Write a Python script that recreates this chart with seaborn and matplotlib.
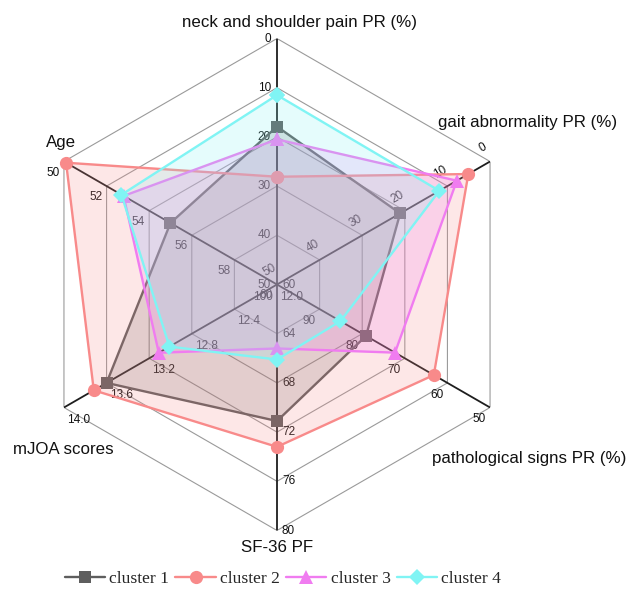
import numpy as np
import matplotlib
matplotlib.use("Agg")
import matplotlib.pyplot as plt
from matplotlib.lines import Line2D
import seaborn as sns

sns.set_style("white")
plt.rcParams['font.family'] = ['Liberation Sans', 'DejaVu Sans']

# Radar dimensions (clockwise from top)
dimensions = ["neck and shoulder pain PR (%)", "gait abnormality PR (%)",
              "pathological signs PR (%)", "SF-36 PF", "mJOA scores", "Age"]

# Tick labels on each spoke, from centre to rim
neck_ticks = ["50", "40", "30", "20", "10", "0"]
gait_ticks = ["50", "40", "30", "20", "10", "0"]
path_ticks = ["100", "90", "80", "70", "60", "50"]
sf36_ticks = ["60", "64", "68", "72", "76", "80"]
mjoa_ticks = ["12.0", "12.4", "12.8", "13.2", "13.6", "14.0"]
age_ticks = ["60", "58", "56", "54", "52", "50"]
spoke_ticks = [neck_ticks, gait_ticks, path_ticks, sf36_ticks, mjoa_ticks, age_ticks]

# Cluster profiles (same order as dimensions)
cluster_names = ["cluster 1", "cluster 2", "cluster 3", "cluster 4"]
cluster1 = [17.9, 21.1, 79.1, 71.1, 13.60, 55.0]
cluster2 = [28.1, 5.1, 63.2, 73.2, 13.72, 50.1]
cluster3 = [20.5, 7.8, 72.3, 65.2, 13.11, 52.8]
cluster4 = [11.5, 11.9, 85.1, 66.1, 13.01, 52.7]
clusters = [cluster1, cluster2, cluster3, cluster4]

colors = ["#5e5e5e", "#f88a8a", "#f07cf0", "#80f4f4"]
markers = ["s", "o", "^", "D"]
msizes = [8, 9.5, 10, 8]

W, H = 630, 589
fig = plt.figure(figsize=(W / 100, H / 100), dpi=100)
cx, cy, R = 277, 284.5, 246
ax = fig.add_axes([(cx - R) / W, (H - cy - R) / H, 2 * R / W, 2 * R / H],
                  projection="polar")
ax.set_theta_zero_location("N")
ax.set_theta_direction(-1)
ax.grid(False)
ax.spines["polar"].set_visible(False)
ax.set_facecolor("none")

n = len(dimensions)
theta = np.linspace(0, 2 * np.pi, n + 1)[:-1]
theta_c = np.append(theta, 2 * np.pi)

centre_vals = np.array([float(t[0]) for t in spoke_ticks])
rim_vals = np.array([float(t[-1]) for t in spoke_ticks])


def to_radius(values):
    v = np.asarray(values, dtype=float)
    return (v - centre_vals) / (rim_vals - centre_vals)


# Hexagonal grid rings
levels = np.linspace(0.2, 1.0, 5)
for lv in levels:
    ax.plot(theta_c, np.full(n + 1, lv), color="#9a9a9a", lw=0.8, zorder=0.5)

# Spokes
for th in theta:
    ax.plot([th, th], [0, 1], color="#1e1e1e", lw=1.3, zorder=0.6)

# Spoke tick labels: (ha, va, dx, dy, rotation) in pixels
label_style = [
    ("right", "center", -6, 0, 0),
    ("center", "center", -7, 14, 30),
    ("right", "center", -4, -12, 0),
    ("left", "center", 5, 0, 0),
    ("left", "center", 3, -12, 0),
    ("right", "center", -4, -11, 0),
]
for th, ticks, (ha, va, dx, dy, rot) in zip(theta, spoke_ticks, label_style):
    for lv, t in zip(np.linspace(0, 1, 6), ticks):
        ax.annotate(t, (th, lv), xytext=(dx, dy), textcoords="offset pixels",
                    ha=ha, va=va, rotation=rot, fontsize=8.5, color="#111111",
                    zorder=0.7, annotation_clip=False)

# Cluster polygons
for i, (vals, c, m, ms) in enumerate(zip(clusters, colors, markers, msizes)):
    r = to_radius(vals)
    r_c = np.append(r, r[0])
    base = 2 + 2 * i
    ax.fill(theta_c, r_c, color=c, alpha=0.2, lw=0, zorder=base)
    sns.lineplot(x=theta_c, y=r_c, ax=ax, sort=False, estimator=None,
                 color=c, marker=m, markersize=ms, markeredgewidth=0,
                 linewidth=1.7, zorder=base + 1, clip_on=False)

ax.set_ylim(0, 1)
ax.set_xticks([])
ax.set_yticks([])
ax.set_xlabel("")
ax.set_ylabel("")

# Dimension titles
title_pos = [(299.5, 23), (528, 123), (529, 458), (277, 548), (63, 449), (61, 143)]
for name, (px, py) in zip(dimensions, title_pos):
    fig.text(px / W, 1 - py / H, name, ha="center", va="center",
             fontsize=12.2, color="#111111")

handles = [Line2D([], [], color=c, marker=m, markersize=ms, mew=0, lw=1.7)
           for c, m, ms in zip(colors, markers, msizes)]
fig.legend(handles, cluster_names, loc="center", bbox_to_anchor=(283 / W, 1 - 579 / H),
           ncol=4, frameon=False, prop={"family": "Liberation Serif", "size": 12.6},
           handlelength=2.3, handletextpad=0.25, columnspacing=0.35)

fig.savefig("out.png", dpi=100)
